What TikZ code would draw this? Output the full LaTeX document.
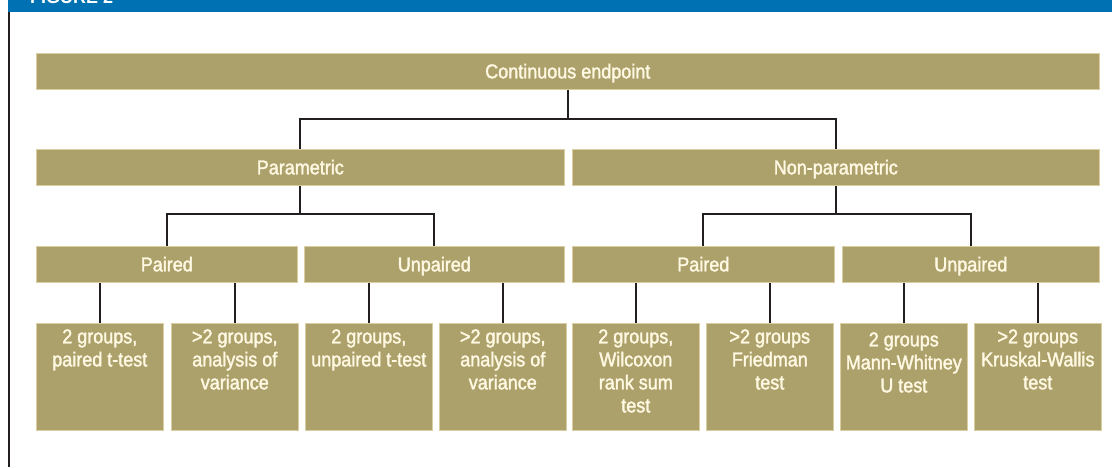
\documentclass[tikz,border=0pt]{standalone}
\usepackage{fontspec}
\setmainfont{Liberation Sans}
\newfontfamily\diafont{Liberation Sans}[FakeStretch=0.9, FakeBold=1.8]
\definecolor{boxfill}{HTML}{ACA16B}
\definecolor{boxedge}{HTML}{D8CEA2}
\definecolor{txtcol}{HTML}{FFF8E2}
\definecolor{figblue}{HTML}{0071B3}
\definecolor{conncol}{HTML}{231F20}
\newcommand{\leafbody}[2]{\begin{minipage}[t][107pt][t]{127pt}\centering\rule{0pt}{#1}#2\end{minipage}}
\begin{document}
\begin{tikzpicture}[x=1pt,y=-1pt,
  hbox/.style={fill=boxfill, draw=boxedge, line width=0.6pt, inner sep=0pt, anchor=north west,
    text=txtcol, font=\diafont\fontsize{20}{23}\selectfont, text height=14pt, text depth=0pt, minimum height=36pt},
  leafbox/.style={fill=boxfill, draw=boxedge, line width=0.6pt, inner sep=0pt, anchor=north west,
    text=txtcol, font=\diafont\fontsize{20}{23}\selectfont},
  conn/.style={draw=conncol, line width=2pt}]
\useasboundingbox (0,0) rectangle (1112,467);
% header bar and frame
\fill[figblue] (8,0) rectangle (1112,12);
\begin{scope}
  \clip (8,0) rectangle (1112,12);
  \node[anchor=base west, inner sep=0pt, text=white, font=\bfseries\fontsize{18}{18}\selectfont] (figlabel) at (30,3) {FIGURE 2};
\end{scope}
\draw[draw=conncol, line width=2.5pt] (9,12) -- (9,467);
% coordinates for the horizontal rails
\coordinate (y1) at (0,119);
\coordinate (y2) at (0,214);
% level 1
\node[hbox, minimum width=1063pt] (top) at (36,53) {Continuous endpoint};
% level 2
\node[hbox, minimum width=528pt] (par) at (36,149) {Parametric};
\node[hbox, minimum width=527pt] (npar) at (572,149) {Non-parametric};
% level 3
\node[hbox, minimum width=261pt] (pp) at (36,246) {Paired};
\node[hbox, minimum width=260pt] (pu) at (304,246) {Unpaired};
\node[hbox, minimum width=262pt] (np) at (572,246) {Paired};
\node[hbox, minimum width=257pt] (nu) at (842,246) {Unpaired};
% leaves
\node[leafbox] (l1) at (36,323) {\leafbody{20pt}{2 groups,\\paired t-test}};
\node[leafbox] (l2) at (171,323) {\leafbody{20pt}{>2 groups,\\analysis of\\variance}};
\node[leafbox] (l3) at (305,323) {\leafbody{20pt}{2 groups,\\unpaired t-test}};
\node[leafbox] (l4) at (439,323) {\leafbody{20pt}{>2 groups,\\analysis of\\variance}};
\node[leafbox] (l5) at (572,323) {\leafbody{20pt}{2 groups,\\Wilcoxon\\rank sum\\test}};
\node[leafbox] (l6) at (706,323) {\leafbody{20pt}{>2 groups\\Friedman\\test}};
\node[leafbox] (l7) at (840,323) {\leafbody{23pt}{2 groups\\Mann-Whitney\\U test}};
\node[leafbox] (l8) at (974,323) {\leafbody{20pt}{>2 groups\\Kruskal-Wallis\\test}};
% connectors
\draw[conn] (top.south) -- (top.south |- y1) -| (par.north);
\draw[conn] (top.south |- y1) -| (npar.north);
\draw[conn] (par.south) -- (par.south |- y2) -| (pp.north);
\draw[conn] (par.south |- y2) -| (pu.north);
\draw[conn] (npar.south) -- (npar.south |- y2) -| (np.north);
\draw[conn] (npar.south |- y2) -| (nu.north);
\draw[conn] (l1.north) -- (l1.north |- pp.south);
\draw[conn] (l2.north) -- (l2.north |- pp.south);
\draw[conn] (l3.north) -- (l3.north |- pu.south);
\draw[conn] (l4.north) -- (l4.north |- pu.south);
\draw[conn] (l5.north) -- (l5.north |- np.south);
\draw[conn] (l6.north) -- (l6.north |- np.south);
\draw[conn] (l7.north) -- (l7.north |- nu.south);
\draw[conn] (l8.north) -- (l8.north |- nu.south);
\end{tikzpicture}
\end{document}
